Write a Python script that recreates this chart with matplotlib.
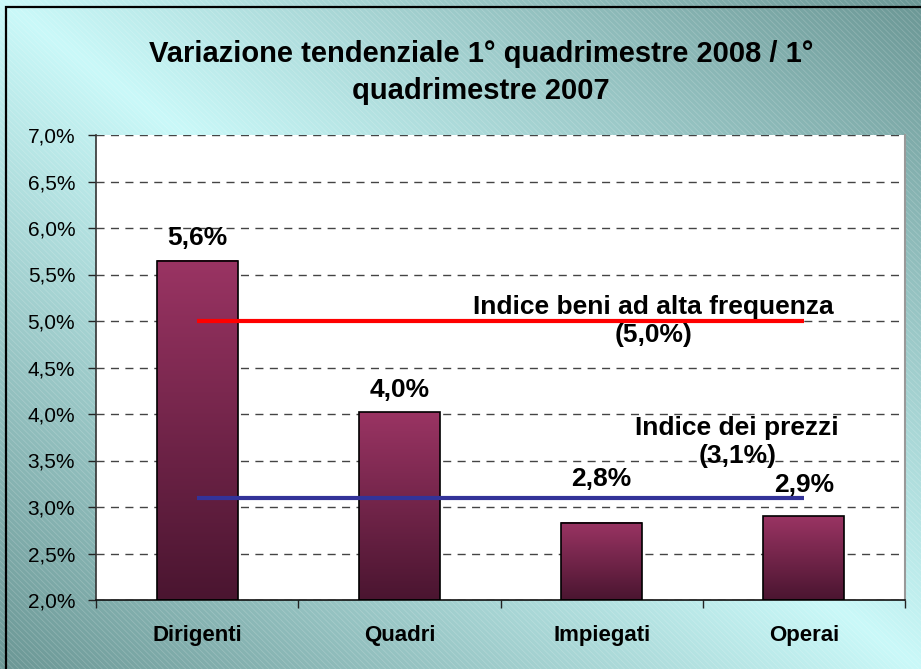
import matplotlib
matplotlib.use('Agg')
import matplotlib.pyplot as plt
import numpy as np
from matplotlib.colors import LinearSegmentedColormap, to_rgb
from matplotlib.patches import Rectangle
from matplotlib.ticker import FuncFormatter, FixedLocator

plt.rcParams['font.family'] = ['Liberation Sans', 'DejaVu Sans']

# data
categories = ['Dirigenti', 'Quadri', 'Impiegati', 'Operai']
values = [5.65, 4.02, 2.83, 2.90]
value_labels = ['5,6%', '4,0%', '2,8%', '2,9%']
label_offsets = [23, 22, 44, 31]  # px above bar top

alta_freq = [5.0, 5.0, 5.0, 5.0]
prezzi = [3.1, 3.1, 3.1, 3.1]
alta_freq_label = 'Indice beni ad alta frequenza\n(5,0%)'
prezzi_label = 'Indice dei prezzi\n(3,1%)'

title = 'Variazione tendenziale 1° quadrimestre 2008 / 1°\nquadrimestre 2007'

W, H = 921, 669
DPI = 100
fig = plt.figure(figsize=(W / DPI, H / DPI), dpi=DPI)

# background: light along main diagonal, darker at the other corners
bg = fig.add_axes([0, 0, 1, 1], zorder=-2)
xx, yy = np.meshgrid(np.linspace(0, 1, 400), np.linspace(0, 1, 300))
f = np.abs(xx - yy)
light = np.array(to_rgb('#caf9f9'))
dark = np.array(to_rgb('#6b9795'))
img = light[None, None, :] * (1 - f[..., None]) + dark[None, None, :] * f[..., None]
bg.imshow(img, extent=[0, 1, 0, 1], aspect='auto', origin='upper')
plt.rcParams['hatch.linewidth'] = 0.6
bg.add_patch(Rectangle((0, 0), 1, 1, transform=bg.transAxes, fill=False,
                       hatch='\\\\\\\\\\\\', edgecolor=(1, 1, 1, 0.18), lw=0))
bg.set_xlim(0, 1)
bg.set_ylim(0, 1)
bg.axis('off')

# figure border (left / top visible)
fig.add_artist(Rectangle((6 / W, -0.1), 1.2, 1 - 7 / H + 0.1, transform=fig.transFigure,
                         fill=False, edgecolor='black', lw=1.6))

ax = fig.add_axes([96 / W, 1 - 600 / H, (905 - 96) / W, (600 - 135) / H])
ax.set_facecolor('white')

x = np.arange(len(categories))
bw = 0.4
cmap = LinearSegmentedColormap.from_list('bar', ['#4a1530', '#9a3463'])
grad = np.linspace(1, 0, 256).reshape(-1, 1)
for xi, v, lab, off in zip(x, values, value_labels, label_offsets):
    ax.imshow(grad, extent=[xi - bw / 2, xi + bw / 2, 2, v], aspect='auto',
              cmap=cmap, zorder=2, interpolation='bilinear')
    ax.add_patch(Rectangle((xi - bw / 2, 2), bw, v - 2, fill=False,
                           edgecolor='black', lw=1.2, zorder=3))
    ax.annotate(lab, (xi, v), xytext=(0, off * 0.72), textcoords='offset points',
                ha='center', va='center', fontsize=19, fontweight='bold', zorder=5)

ax.plot(x, alta_freq, color='#ff0000', lw=3, zorder=4, solid_capstyle='butt')
ax.plot(x, prezzi, color='#333399', lw=3, zorder=4, solid_capstyle='butt')

ax.text(2.255, 5.0, alta_freq_label, ha='center', va='center', fontsize=19,
        fontweight='bold', linespacing=1.25, zorder=5)
ax.text(2.67, 3.70, prezzi_label, ha='center', va='center', fontsize=19,
        fontweight='bold', linespacing=1.25, zorder=5)

ax.set_xlim(-0.5, 3.5)
ax.set_ylim(2, 7)
ax.set_yticks(np.arange(2, 7.01, 0.5))
ax.yaxis.set_major_formatter(FuncFormatter(lambda v, p: ('%.1f%%' % v).replace('.', ',')))
ax.set_xticks(x)
ax.set_xticklabels(categories, fontsize=16, fontweight='bold')
ax.xaxis.set_minor_locator(FixedLocator(np.arange(-0.5, 3.6, 1)))
ax.tick_params(axis='x', which='major', length=0, pad=18)
ax.tick_params(axis='x', which='minor', length=6, width=1, direction='out', color='#222')
ax.tick_params(axis='y', length=6, width=1, direction='out', labelsize=15, pad=9, color='#222')

ax.set_axisbelow(True)
ax.grid(axis='y', color='#444444', lw=1, linestyle=(0, (5.8, 4.6)))
ax.spines['top'].set_visible(False)
ax.spines['right'].set_color('#999999')
ax.spines['right'].set_linewidth(1.5)
ax.spines['left'].set_color('#333333')
ax.spines['bottom'].set_color('#111111')
ax.spines['left'].set_linewidth(1.2)
ax.spines['bottom'].set_linewidth(1.2)

fig.text(481 / W, 1 - 72.5 / H, title, ha='center', va='center', fontsize=21,
         fontweight='bold', linespacing=1.45)

fig.savefig('out.png', dpi=DPI)
